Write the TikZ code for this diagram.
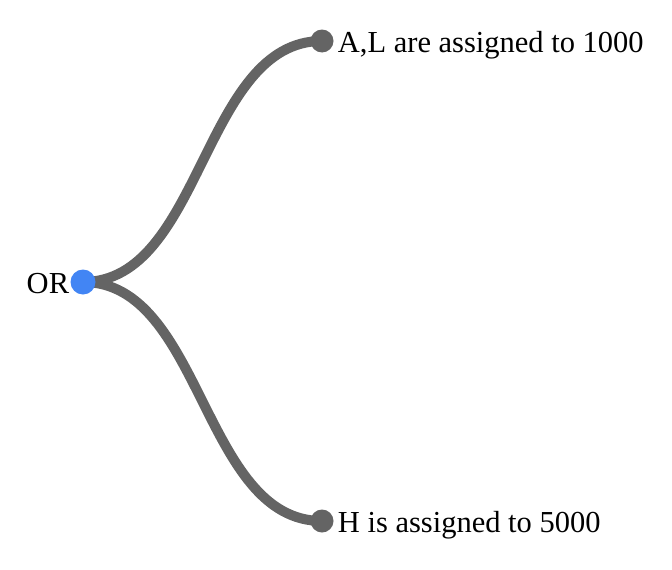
\documentclass[tikz,border=0pt]{standalone}
\usepackage{fontspec}
\setmainfont{Liberation Serif}
\definecolor{linkgray}{HTML}{646464}
\definecolor{rootblue}{HTML}{4285F4}

\begin{document}
\begin{tikzpicture}[x=1pt, y=-1pt,
	link/.style={draw=linkgray, line width=10pt},
	leaf/.style={circle, fill=linkgray, minimum size=23pt, inner sep=0pt},
	rootdot/.style={circle, fill=rootblue, minimum size=25pt, inner sep=0pt},
	lbl/.style={font=\fontsize{30.5}{36}\selectfont, inner sep=0pt}]

	\useasboundingbox (0, 0) rectangle (672, 570);

	\coordinate (R) at (83, 282);
	\coordinate (P) at (322, 41);
	\coordinate (Q) at (322, 521);

	\draw[link] (R) .. controls (202.5, 282) and (202.5, 41) .. (P);
	\draw[link] (R) .. controls (202.5, 282) and (202.5, 521) .. (Q);

	\node[rootdot] (or) at (R) {};
	\node[leaf] (al) at (P) {};
	\node[leaf] (h) at (Q) {};

	\node[lbl, anchor=base east] (ortext) at ([xshift=-1pt, yshift=-11pt]or.west) {OR};
	\node[lbl, anchor=base west] (altext) at ([xshift=4pt, yshift=-11pt]al.east) {A,L are assigned to 1000};
	\node[lbl, anchor=base west] (htext) at ([xshift=4pt, yshift=-11pt]h.east) {H is assigned to 5000};

\end{tikzpicture}
\end{document}
